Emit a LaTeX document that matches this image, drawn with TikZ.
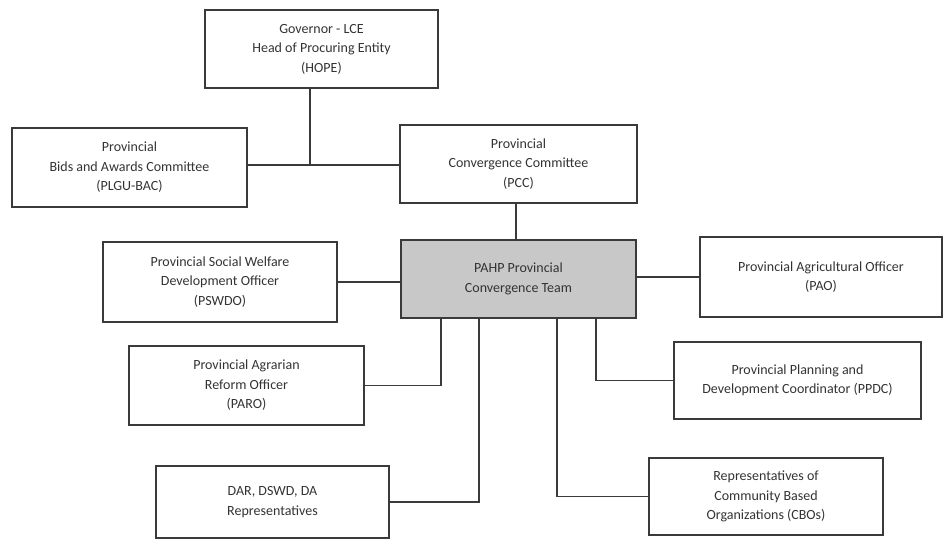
\documentclass[tikz,border=0pt]{standalone}
\usepackage{fontspec}
\setmainfont{Carlito}
\usepackage{xcolor}
\usetikzlibrary{positioning}
\definecolor{linegray}{HTML}{3A3A3A}
\definecolor{textgray}{HTML}{333333}
\definecolor{teamgray}{HTML}{C8C8C8}

\begin{document}
\begin{tikzpicture}[x=1pt, y=-1pt,
    org/.style={draw=linegray, line width=1.5pt, align=center, inner sep=0pt,
        text=textgray, font=\fontsize{14}{19.5}\selectfont},
    link/.style={draw=linegray, line width=1.5pt}]
    \useasboundingbox (0,0) rectangle (944,540);

    % top of the chart
    \node[org, minimum width=233pt, minimum height=78pt] (hope) at (321.5,49) {Governor - LCE\\Head of Procuring Entity\\(HOPE)};
    \node[org, minimum width=235pt, minimum height=79pt] (bac) at (129.5,167.5) {Provincial\\Bids and Awards Committee\\(PLGU-BAC)};
    \node[org, minimum width=237pt, minimum height=78pt] (pcc) at (518.5,164) {Provincial\\Convergence Committee\\(PCC)};

    % the team and its members
    \node[org, fill=teamgray, minimum width=235pt, minimum height=78pt] (team) at (518.5,279) {PAHP Provincial\\Convergence Team};
    \node[org, minimum width=234pt, minimum height=80pt] (pswdo) at (220,282) {Provincial Social Welfare\\Development Officer\\(PSWDO)};
    \node[org, minimum width=242pt, minimum height=80pt] (pao) at (821,277) {Provincial Agricultural Officer\\(PAO)};
    \node[org, minimum width=235pt, minimum height=79pt] (paro) at (246.5,385.5) {Provincial Agrarian\\Reform Officer\\(PARO)};
    \node[org, minimum width=247pt, minimum height=77pt] (ppdc) at (797.5,380.5) {Provincial Planning and\\Development Coordinator (PPDC)};
    \node[org, minimum width=233pt, minimum height=72pt] (reps) at (272.5,502) {DAR, DSWD, DA\\Representatives};
    \node[org, minimum width=234pt, minimum height=77pt] (cbo) at (766,496.5) {Representatives of\\Community Based\\Organizations (CBOs)};

    \coordinate (jn) at (310,165);
    \draw[link] (hope.south -| jn) -- (jn);
    \draw[link] (bac.east |- jn) -- (pcc.west |- jn);
    \draw[link] (pcc.south -| 516,0) -- (team.north -| 516,0);

    \draw[link] (pswdo.east) -- (team.west |- pswdo.east);
    \draw[link] (team.east |- pao.west) -- (pao.west);
    \draw[link] (team.south -| 441,0) |- (paro.east);
    \draw[link] (team.south -| 479,0) |- (reps.east);
    \draw[link] (team.south -| 557,0) |- (cbo.west);
    \draw[link] (team.south -| 596,0) |- (ppdc.west);
\end{tikzpicture}
\end{document}
